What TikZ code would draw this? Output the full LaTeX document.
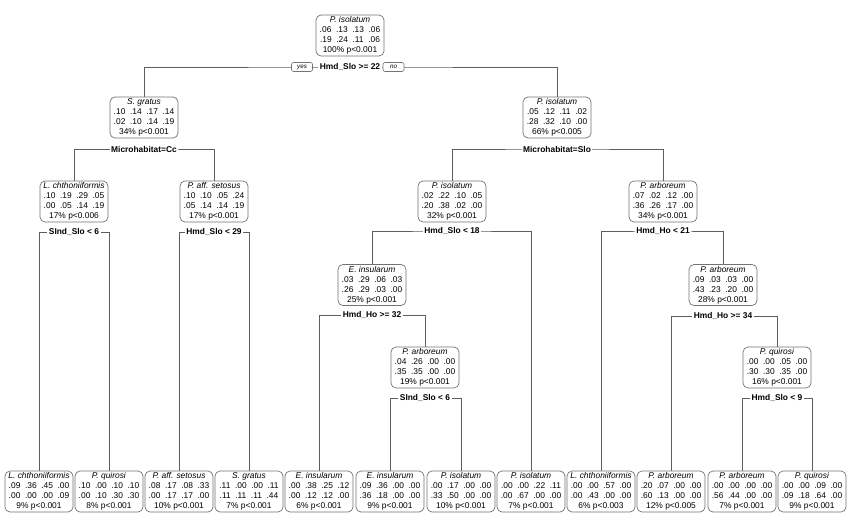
\documentclass[tikz,border=0pt]{standalone}
\usepackage{fontspec}
\setmainfont{Liberation Sans}
\usetikzlibrary{backgrounds}
\definecolor{linegray}{HTML}{5E5E5E}
\definecolor{boxgray}{HTML}{737373}
\newcommand\fs{\fontsize{8.4pt}{10pt}\selectfont}
\newcommand\dd[4]{#1\hskip4.6pt#2\hskip4.6pt#3\hskip4.6pt#4}
\newcommand\info[4]{\textit{#1}\\#2\\#3\\#4}
\tikzset{
  box/.style={draw=boxgray, line width=0.7pt, rounded corners=5pt, minimum width=68pt, minimum height=41pt, inner sep=0pt, align=center, font=\fs, fill=white},
  splitlab/.style={font=\fs\bfseries, fill=white, inner sep=1.5pt},
  edge/.style={draw=linegray, line width=0.7pt},
  yn/.style={draw=boxgray, line width=0.6pt, rounded corners=2pt, font=\fontsize{6.3pt}{7pt}\selectfont\itshape, minimum width=21pt, minimum height=9pt, inner sep=0pt, fill=white}
}
\begin{document}
\begin{tikzpicture}[x=1pt,y=-1pt]
\useasboundingbox (0,0) rectangle (849,523);
% internal nodes
\node[box] (n1) at (350,35.5) {\info{P. isolatum}{\dd{.06}{.13}{.13}{.06}}{\dd{.19}{.24}{.11}{.06}}{100\% p<0.001}};
\node[box] (n2) at (144,117.5) {\info{S. gratus}{\dd{.10}{.14}{.17}{.14}}{\dd{.02}{.10}{.14}{.19}}{34\% p<0.001}};
\node[box] (n3) at (557,117.5) {\info{P. isolatum}{\dd{.05}{.12}{.11}{.02}}{\dd{.28}{.32}{.10}{.00}}{66\% p<0.005}};
\node[box] (n4) at (74,201.5) {\info{L. chthoniiformis}{\dd{.10}{.19}{.29}{.05}}{\dd{.00}{.05}{.14}{.19}}{17\% p<0.006}};
\node[box] (n5) at (214,201.5) {\info{P. aff. setosus}{\dd{.10}{.10}{.05}{.24}}{\dd{.05}{.14}{.14}{.19}}{17\% p<0.001}};
\node[box] (n6) at (452,201.5) {\info{P. isolatum}{\dd{.02}{.22}{.10}{.05}}{\dd{.20}{.38}{.02}{.00}}{32\% p<0.001}};
\node[box] (n7) at (663,201.5) {\info{P. arboreum}{\dd{.07}{.02}{.12}{.00}}{\dd{.36}{.26}{.17}{.00}}{34\% p<0.001}};
\node[box] (n12) at (372,285) {\info{E. insularum}{\dd{.03}{.29}{.06}{.03}}{\dd{.26}{.29}{.03}{.00}}{25\% p<0.001}};
\node[box] (n15) at (723,285) {\info{P. arboreum}{\dd{.09}{.03}{.03}{.00}}{\dd{.43}{.23}{.20}{.00}}{28\% p<0.001}};
\node[box] (n25) at (425,367.5) {\info{P. arboreum}{\dd{.04}{.26}{.00}{.00}}{\dd{.35}{.35}{.00}{.00}}{19\% p<0.001}};
\node[box] (n31) at (777,367.5) {\info{P. quirosi}{\dd{.00}{.00}{.05}{.00}}{\dd{.30}{.30}{.35}{.00}}{16\% p<0.001}};
% leaves
\node[box] (l1) at (39,491.5) {\info{L. chthoniiformis}{\dd{.09}{.36}{.45}{.00}}{\dd{.00}{.00}{.00}{.09}}{9\% p<0.001}};
\node[box] (l2) at (109,491.5) {\info{P. quirosi}{\dd{.10}{.00}{.10}{.10}}{\dd{.00}{.10}{.30}{.30}}{8\% p<0.001}};
\node[box] (l3) at (179,491.5) {\info{P. aff. setosus}{\dd{.08}{.17}{.08}{.33}}{\dd{.00}{.17}{.17}{.00}}{10\% p<0.001}};
\node[box] (l4) at (249,491.5) {\info{S. gratus}{\dd{.11}{.00}{.00}{.11}}{\dd{.11}{.11}{.11}{.44}}{7\% p<0.001}};
\node[box] (l5) at (319,491.5) {\info{E. insularum}{\dd{.00}{.38}{.25}{.12}}{\dd{.00}{.12}{.12}{.00}}{6\% p<0.001}};
\node[box] (l6) at (390,491.5) {\info{E. insularum}{\dd{.09}{.36}{.00}{.00}}{\dd{.36}{.18}{.00}{.00}}{9\% p<0.001}};
\node[box] (l7) at (461,491.5) {\info{P. isolatum}{\dd{.00}{.17}{.00}{.00}}{\dd{.33}{.50}{.00}{.00}}{10\% p<0.001}};
\node[box] (l8) at (531,491.5) {\info{P. isolatum}{\dd{.00}{.00}{.22}{.11}}{\dd{.00}{.67}{.00}{.00}}{7\% p<0.001}};
\node[box] (l9) at (601,491.5) {\info{L. chthoniiformis}{\dd{.00}{.00}{.57}{.00}}{\dd{.00}{.43}{.00}{.00}}{6\% p<0.003}};
\node[box] (l10) at (671,491.5) {\info{P. arboreum}{\dd{.20}{.07}{.00}{.00}}{\dd{.60}{.13}{.00}{.00}}{12\% p<0.005}};
\node[box] (l11) at (742,491.5) {\info{P. arboreum}{\dd{.00}{.00}{.00}{.00}}{\dd{.56}{.44}{.00}{.00}}{7\% p<0.001}};
\node[box] (l12) at (812,491.5) {\info{P. quirosi}{\dd{.00}{.00}{.09}{.00}}{\dd{.09}{.18}{.64}{.00}}{9\% p<0.001}};
% split labels
\node[splitlab] (s1) at (350,67) {Hmd\_Slo >= 22};
\node[yn] (yes) at (302,67) {yes};
\node[yn] (no) at (393.5,67) {no};
\node[splitlab] (s2) at (144,149) {Microhabitat=Cc};
\node[splitlab] (s3) at (557,149) {Microhabitat=Slo};
\node[splitlab] (s4) at (74,232) {SInd\_Slo < 6};
\node[splitlab] (s5) at (214,232) {Hmd\_Slo < 29};
\node[splitlab] (s6) at (452,231) {Hmd\_Slo < 18};
\node[splitlab] (s7) at (663,231) {Hmd\_Ho < 21};
\node[splitlab] (s12) at (372,315) {Hmd\_Ho >= 32};
\node[splitlab] (s15) at (723,316) {Hmd\_Ho >= 34};
\node[splitlab] (s25) at (425,398) {SInd\_Slo < 6};
\node[splitlab] (s31) at (777,398) {Hmd\_Slo < 9};
% connectors
\begin{pgfonlayer}{background}
\draw[edge] (n2.north) |- (s1.center) -| (n3.north);
\draw[edge] (n4.north) |- (s2.center) -| (n5.north);
\draw[edge] (n6.north) |- (s3.center) -| (n7.north);
\draw[edge] (l1.north) |- (s4.center) -| (l2.north);
\draw[edge] (l3.north) |- (s5.center) -| (l4.north);
\draw[edge] (n12.north) |- (s6.center) -| (l8.north);
\draw[edge] (l9.north) |- (s7.center) -| (n15.north);
\draw[edge] (l5.north) |- (s12.center) -| (n25.north);
\draw[edge] (l10.north) |- (s15.center) -| (n31.north);
\draw[edge] (l6.north) |- (s25.center) -| (l7.north);
\draw[edge] (l11.north) |- (s31.center) -| (l12.north);
\end{pgfonlayer}
\end{tikzpicture}
\end{document}
